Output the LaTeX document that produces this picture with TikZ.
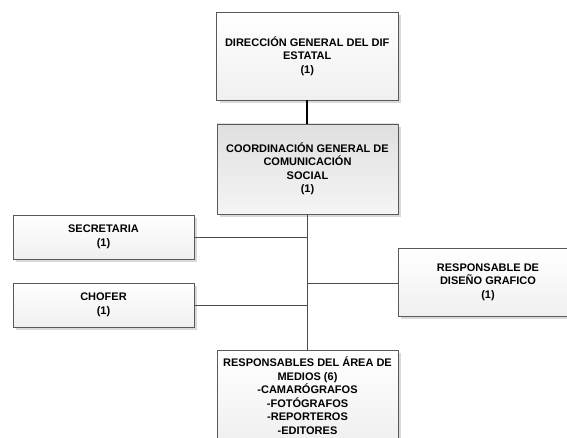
\documentclass[tikz,border=0pt]{standalone}
\usepackage{fontspec}
\setmainfont{Liberation Sans}
\usetikzlibrary{shadows}
\begin{document}
\begin{tikzpicture}[x=1pt,y=-1pt,
  box/.style={draw=black!65, line width=0.9pt, top color=white, bottom color=gray!12,
    align=center, font=\fontsize{11}{13.5}\selectfont\bfseries, inner sep=0pt,
    drop shadow={shadow xshift=3pt, shadow yshift=-3pt, fill=gray!30, opacity=1}},
  darkbox/.style={box, top color=gray!25, bottom color=gray!8},
  link/.style={draw=black!70, line width=0.8pt},
  mainlink/.style={draw=black, line width=1.3pt}
]
\useasboundingbox (0,0) rectangle (567,438);
\begin{scope}
\clip (0,0) rectangle (567,438);
\node[box, minimum width=181.5pt, minimum height=88pt] (dir) at (307.25,56)
  {DIRECCIÓN GENERAL DEL DIF\\ESTATAL\\(1)};
\node[darkbox, minimum width=181pt, minimum height=90pt] (coord) at (307.5,169)
  {COORDINACIÓN GENERAL DE\\COMUNICACIÓN\\SOCIAL\\(1)};
\node[box, minimum width=181pt, minimum height=44pt] (sec) at (103.5,237)
  {SECRETARIA\\(1)};
\node[box, minimum width=181pt, minimum height=44pt] (cho) at (103.5,305)
  {CHOFER\\(1)};
\node[box, minimum width=180pt, minimum height=68pt] (dis) at (488,282)
  {RESPONSABLE DE\\DISEÑO GRAFICO\\(1)};
\node[box, minimum width=181pt, minimum height=91pt] (med) at (307.5,395.5)
  {RESPONSABLES DEL ÁREA DE\\MEDIOS (6)\\-CAMARÓGRAFOS\\-FOTÓGRAFOS\\-REPORTEROS\\-EDITORES};
\coordinate (j1) at (307,237);
\coordinate (j2) at (307,283);
\coordinate (j3) at (307,305);
\draw[mainlink] (dir.south -| 307,0) -- (coord.north -| 307,0);
\draw[link] (coord.south -| 307,0) -- (med.north -| 307,0);
\draw[link] (sec.east |- j1) -- (j1);
\draw[link] (cho.east |- j3) -- (j3);
\draw[link] (j2) -- (dis.west |- j2);
\end{scope}
\end{tikzpicture}
\end{document}
